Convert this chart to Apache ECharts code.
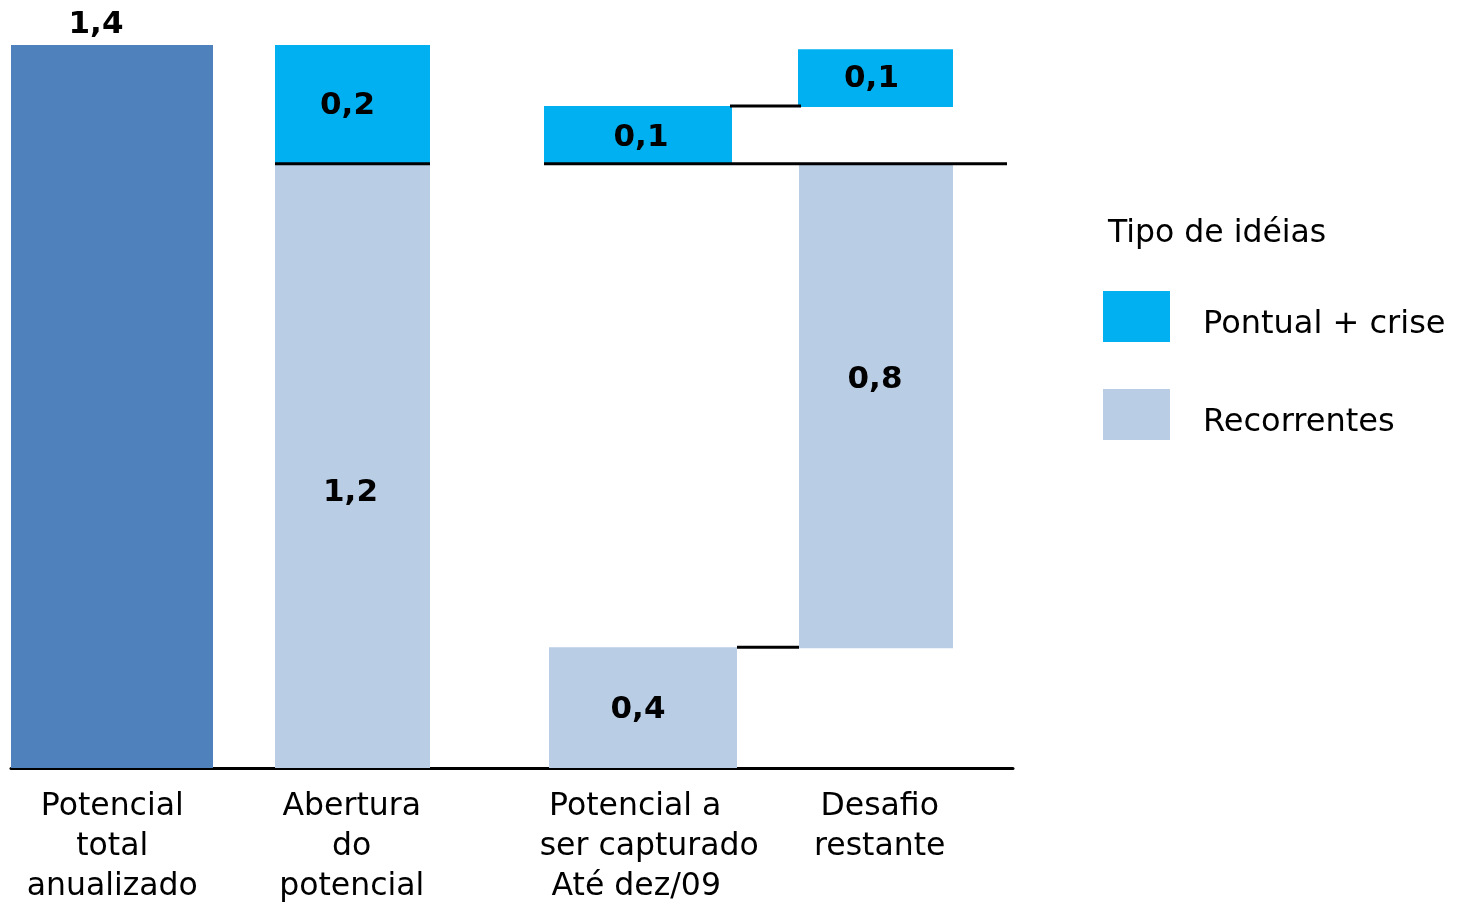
<!DOCTYPE html>
<html>
<head>
<meta charset="utf-8">
<script src="https://cdn.jsdelivr.net/npm/echarts@6/dist/echarts.min.js"></script>
<style>
html, body { margin: 0; padding: 0; background: #fff; }
#chart { width: 1464px; height: 904px; }
</style>
</head>
<body>
<div id="chart"></div>
<script>
// data: [category, start, end]
var categories = ['Potencial\ntotal\nanualizado', 'Abertura\ndo\npotencial', 'Potencial a\nser capturado\nAté dez/09', 'Desafio\nrestante'];
var totalBar = [[0, 0, 1.4]];
var recorrentes = [[1, 0, 1.17], [2, 0, 0.234], [3, 0.232, 1.17]];
var pontual = [[1, 1.17, 1.4], [2, 1.17, 1.282], [3, 1.28, 1.392]];
var totalLabels = ['1,4'];
var recorrentesLabels = ['1,2', '0,4', '0,8'];
var pontualLabels = ['0,2', '0,1', '0,1'];
// connector lines: [from category, to category, level]
var connectors = [[1, 1, 1.17], [2, 3, 1.17], [2, 3, 1.282], [2, 3, 0.234]];

var FONT = '"DejaVu Sans", Verdana, sans-serif';
var DARK = '#4F81BD', LIGHT = '#B9CDE5', CYAN = '#00B0F0';

// bar edges in px relative to the band centre
var totalBoxes = [[-125.25, 76.75]];
var recorrentesBoxes = [[-111.75, 43.25], [-88.25, 99.75], [-88.75, 65.25]];
var pontualBoxes = [[-111.75, 43.25], [-93.25, 94.75], [-89.75, 65.25]];
var totalShift = [[-16, -20]];
var recorrentesShift = [[-2, 27], [-5, 2], [-1, -26]];
var pontualShift = [[-5, 2], [3, 3], [-4, 1]];
var connectorSpans = [[-111.75, 43.25], [-93.25, 119.25], [92.75, -86.75], [99.75, -88.75]];
var labelShift = [[-24, -24, -24], [-35, -35, -35], [-2, 12, -1], [-8, -8]];

function segment(boxes, labels, shifts, color, atTop) {
    return function (params, api) {
        var i = params.dataIndex;
        var cat = api.value(0);
        var lo = api.coord([cat, api.value(1)]);
        var hi = api.coord([cat, api.value(2)]);
        var x0 = lo[0] + boxes[i][0], x1 = lo[0] + boxes[i][1];
        var ly = atTop ? hi[1] : (lo[1] + hi[1]) / 2;
        return {
            type: 'group',
            children: [
                { type: 'rect', shape: { x: x0, y: hi[1], width: x1 - x0, height: lo[1] - hi[1] }, style: { fill: color } },
                { type: 'text', x: (x0 + x1) / 2 + shifts[i][0], y: ly + shifts[i][1],
                  style: { text: labels[i], fill: '#000', fontSize: 31, fontWeight: 'bold', fontFamily: FONT, align: 'center', verticalAlign: 'middle' } }
            ]
        };
    };
}

var rich = {};
labelShift.forEach(function (lines, c) {
    lines.forEach(function (s, l) {
        rich['c' + c + 'l' + l] = {
            fontSize: 31.5, fontFamily: FONT, color: '#000', lineHeight: 40,
            padding: s < 0 ? [0, -2 * s, 0, 0] : [0, 0, 0, 2 * s]
        };
    });
});

var chart = echarts.init(document.getElementById('chart'));
chart.setOption({
    animation: false,
    title: {
        text: 'Tipo de idéias',
        left: 1108, top: 218, padding: 0,
        textStyle: { fontSize: 31.5, fontWeight: 'normal', fontFamily: FONT, color: '#000' }
    },
    legend: {
        data: [{ name: 'Pontual + crise', icon: 'rect' }, { name: 'Recorrentes', icon: 'rect' }],
        orient: 'vertical', left: 1103, top: 291, padding: 0,
        itemWidth: 67, itemHeight: 51, itemGap: 47,
        selectedMode: false,
        formatter: '{t|{name}}',
        textStyle: {
            rich: { t: { fontSize: 32, fontFamily: FONT, color: '#000', padding: [16, 0, 0, 28] } }
        }
    },
    grid: { left: 11, right: 451, top: 45, bottom: 136 },
    xAxis: {
        type: 'category',
        data: categories,
        axisLine: { lineStyle: { color: '#000', width: 3 } },
        axisTick: { show: false },
        axisLabel: {
            margin: 19,
            interval: 0,
            formatter: function (value, idx) {
                return value.split('\n').map(function (t, l) {
                    return '{c' + idx + 'l' + l + '|' + t + '}';
                }).join('\n');
            },
            rich: rich
        }
    },
    yAxis: { type: 'value', min: 0, max: 1.4, show: false, splitLine: { show: false } },
    series: [
        { name: 'Total', type: 'custom', clip: false, encode: { x: 0, y: [1, 2] },
          itemStyle: { color: DARK }, data: totalBar,
          renderItem: segment(totalBoxes, totalLabels, totalShift, DARK, true) },
        { name: 'Recorrentes', type: 'custom', clip: false, encode: { x: 0, y: [1, 2] },
          itemStyle: { color: LIGHT }, data: recorrentes,
          renderItem: segment(recorrentesBoxes, recorrentesLabels, recorrentesShift, LIGHT, false) },
        { name: 'Pontual + crise', type: 'custom', clip: false, encode: { x: 0, y: [1, 2] },
          itemStyle: { color: CYAN }, data: pontual,
          renderItem: segment(pontualBoxes, pontualLabels, pontualShift, CYAN, false) },
        { name: 'linhas', type: 'custom', clip: false, encode: { x: [0, 1], y: 2 },
          data: connectors,
          renderItem: function (params, api) {
              var i = params.dataIndex;
              var p0 = api.coord([api.value(0), api.value(2)]);
              var p1 = api.coord([api.value(1), api.value(2)]);
              return {
                  type: 'line',
                  shape: { x1: p0[0] + connectorSpans[i][0], y1: p0[1], x2: p1[0] + connectorSpans[i][1], y2: p1[1] },
                  style: { stroke: '#000', lineWidth: 3 }
              };
          } }
    ]
});
</script>
</body>
</html>
